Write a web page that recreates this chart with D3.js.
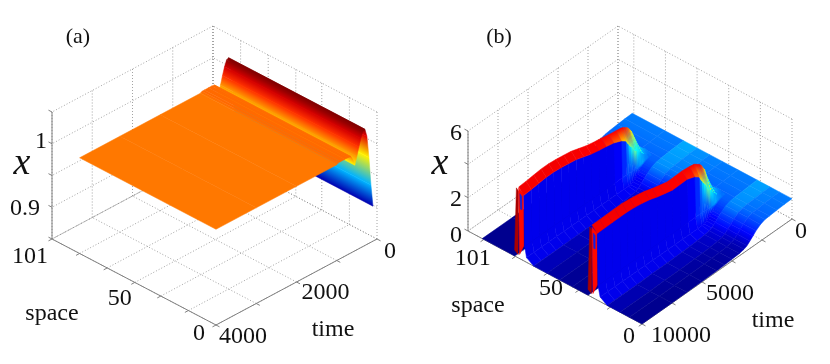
<!DOCTYPE html>
<html><head><meta charset="utf-8">
<script src="https://cdn.jsdelivr.net/npm/d3@7/dist/d3.min.js"></script>
<style>html,body{margin:0;padding:0;background:#fff}svg{display:block;filter:blur(.35px)}text{font-family:"Liberation Serif",serif;fill:#111}</style>
</head><body><div id="chart"></div>
<script>
// ---------- panel (a) data ----------
const spaceTicksA=[0,17,34,50,67,84,101];
const spaceLabelsA=["0","","","50","","","101"];
const timeTicksA=[0,1000,2000,3000,4000];
const timeLabelsA=["0","","2000","","4000"];
const xTicksA=[0.85,0.9,0.95,1,1.05];
const xLabelsA=["","0.9","","1",""];
const surfaceSpaceA=[0,84];
const surfaceTimeA=[100,150,200,250,300,350,400,450,500,550,600,650,720,800,900,960,1000,2000,3000,4000];
const surfaceValueA=[.905,.94,.985,1.02,1.033,1.031,1.022,1.01,.997,.985,.995,1.002,1.0025,1.0025,1.0025,1.0025,1.0007,1.0007,1.0007,1.0007];
// ---------- panel (b) data ----------
const spaceTicksB=[0,20,40,60,80,100];
const spaceLabelsB=["0","","","50","","101"];
const timeTicksB=[0,2000,4000,6000,8000,10000];
const timeLabelsB=["0","","","5000","","10000"];
const xTicksB=[0,2,4,6];
const xLabelsB=["0","2","","6"];
const floorTime=[0,500,1000,1500,1800,2100,2400,2600,2800,3000,3200,3500,4000,4500,5000,6000,7000,8000,10000];
const floorLevel=[1.22,1.2,1.17,1.13,1.1,1,.8,.62,.45,.28,.2,.14,.1,.07,.05,.03,.02,0,0];
const floorSpaces=[[0,8,14,22],[34.1,44,52,60,68.5],[80.5,101]];
const floorShades=[[0,0,.1,.25],[0,0,.06,.15,.28],[0,0]];
const gapSpaces=[[22,34.1],[68.5,80.5]];
const gapTime=[0,500,1000,1500,1800,2100,2400];
const gapLevel=[1.22,1.2,1.17,1.13,1.1,1,.8];
const pulseTime=[1600,1700,1800,1900,2000,2100,2200,2300,2400,2500,2600,2700,2800,2900,3050,3200,3500,4000,4500,5000,5500,6000,6500,7000,7500,8000,8500,9000,9500,10000];
const pulsePeak1=[1.3,1.35,1.45,1.55,1.7,1.9,2.15,2.4,2.65,2.9,3.05,3.2,3.3,3.35,3.45,3.5,3.55,3.62,3.72,3.8,3.9,4.05,4.2,4.28,4.35,4.4,4.4,4.35,4.3,4.26];
const pulsePeak2=[1.25,1.3,1.4,1.5,1.6,1.8,2.05,2.3,2.6,2.95,3.1,3.3,3.42,3.5,3.6,3.7,3.75,3.8,3.78,3.77,3.88,4,4.15,4.25,4.32,4.36,4.36,4.35,4.34,4.33];
const pulseDrop=[.1,.15,.2,.25,.3,.4,.5,.7,.8,1,1.1,1.05,1,.95,.8,.6,.45,.33,.33,.33,.33,.33,.33,.33,.33,.33,.33,.33,.33,.33];
const pulseShade=[1.15,1.25,1.1,1.4,1.15,1.55,1.3,1.75,1.7,2.1,2.3,2.2,2,1.85,1.5,1,.65,.5,.5,.5,.5,.5,.5,.5,.5,.5,.5,.5,.5,.5];
const wallSpace1=[74.7,74.2,73,68.5];
const wallSpace2=[28.3,27.8,26.5,22];
const wallValue=[.9,.28,0];
const endDark=[[33,4.14],[34.1,.36],[32,.2],[31.6,4]];
const endRed=[[31.6,4.2],[31,.25],[28.3,.9],[28.3,4]];
const endBlue=[[30.8,3.9],[29.6,3.8],[29.6,3],[30.5,3]];

// ---------- setup ----------
const svg=d3.select("#chart").append("svg").attr("width",830).attr("height",364);
const defs=svg.append("defs");
let gid=0;
const panelA={b:[216,325],l:[52,239],r:[377,239],H:127,sMax:101,tMax:4000,xDom:[.85,1.05]};
const panelB={b:[642,324],l:[468,231],r:[792,219],H:100,sMax:110,tMax:10000,xDom:[0,6]};
function projector(p){
  const sF=d3.scaleLinear([0,p.sMax],[0,1]),tF=d3.scaleLinear([p.tMax,0],[0,1]),xP=d3.scaleLinear(p.xDom,[0,p.H]);
  return (s,t,x)=>[p.b[0]+sF(s)*(p.l[0]-p.b[0])+tF(t)*(p.r[0]-p.b[0]),
                   p.b[1]+sF(s)*(p.l[1]-p.b[1])+tF(t)*(p.r[1]-p.b[1])-xP(x)];
}
function unit(a,b){const dx=b[0]-a[0],dy=b[1]-a[1],n=Math.hypot(dx,dy);return [dx/n,dy/n];}
const jetA=d3.scaleLinear().domain([.9,.91663,.94988,.98313,1.01638,1.033]).range(["#00008f","#0000ff","#00ffff","#ffff00","#ff0000","#800000"]).clamp(true);
const jetB=d3.scaleLinear().domain([0,.6,1,1.2,1.85,2.4,2.9,3.15,3.45,4.5]).range(["#00008f","#0000ff","#0048ff","#0078ff","#00ffff","#80ff80","#ffff00","#ff8000","#ff0000","#f00000"]).clamp(true);

function poly(g,pts,c0,c1){
  let fill=c0;
  if(c1!==undefined&&c1!==c0){
    const id="g"+(gid++),d=unit(pts[0],pts[1]),n=[-d[1],d[0]];
    const far=pts[pts.length-1],len=(far[0]-pts[0][0])*n[0]+(far[1]-pts[0][1])*n[1];
    const lg=defs.append("linearGradient").attr("id",id).attr("gradientUnits","userSpaceOnUse")
      .attr("x1",pts[0][0]).attr("y1",pts[0][1]).attr("x2",pts[0][0]+n[0]*len).attr("y2",pts[0][1]+n[1]*len);
    lg.append("stop").attr("offset",0).attr("stop-color",c0);
    lg.append("stop").attr("offset",1).attr("stop-color",c1);
    fill="url(#"+id+")";
  }
  g.append("path").attr("d",d3.line()(pts)+"Z").attr("fill",fill).attr("stroke",fill).attr("stroke-width",.5);
}

function frame(g,p,cfg){
  const P=projector(p),grid=g.append("g").attr("fill","none").attr("stroke","#8c8c8c").attr("stroke-width",.8).attr("stroke-dasharray","1 2");
  const seg=(a,b)=>grid.append("path").attr("d",d3.line()([a,b]));
  const x0=p.xDom[0],x1=p.xDom[1];
  const ss=[...cfg.sT,p.sMax],ts=cfg.tT;
  ss.forEach(s=>{seg(P(s,p.tMax,x0),P(s,0,x0));seg(P(s,0,x0),P(s,0,x1));});
  ts.forEach(t=>{seg(P(0,t,x0),P(p.sMax,t,x0));seg(P(p.sMax,t,x0),P(p.sMax,t,x1));});
  cfg.xT.forEach(x=>{seg(P(0,0,x),P(p.sMax,0,x));seg(P(p.sMax,0,x),P(p.sMax,p.tMax,x));});
  const ax=g.append("g").attr("fill","none").attr("stroke","#808080").attr("stroke-width",1);
  const line=(a,b)=>ax.append("path").attr("d",d3.line()([a,b]));
  line(P(p.sMax,p.tMax,x0),P(p.sMax,p.tMax,x1));
  line(P(p.sMax,p.tMax,x0),P(0,p.tMax,x0));
  line(P(0,p.tMax,x0),P(0,0,x0));
  const su=unit(p.r,p.b),tu=unit(p.l,p.b),xu=unit(p.b,p.l);
  cfg.sT.forEach(s=>{const a=P(s,p.tMax,x0);line(a,[a[0]+su[0]*4,a[1]+su[1]*4]);});
  cfg.tT.forEach(t=>{const a=P(0,t,x0);line(a,[a[0]+tu[0]*4,a[1]+tu[1]*4]);});
  cfg.xT.forEach(x=>{const a=P(p.sMax,p.tMax,x);line(a,[a[0]+xu[0]*4,a[1]+xu[1]*4]);});
}
function label(g,txt,x,y,size,style){
  g.append("text").attr("x",x).attr("y",y).attr("dy",".33em").attr("text-anchor","middle")
   .attr("font-size",size).attr("font-style",style||null).text(txt);
}
function tickLabels(g,P,ticks,labels,pt,off){
  ticks.forEach((v,i)=>{if(labels[i]){const a=pt(v);label(g,labels[i],a[0]+off(i)[0],a[1]+off(i)[1],24);}});
}

// ---------- panel (a) ----------
const gA=svg.append("g");
frame(gA,panelA,{sT:spaceTicksA,tT:timeTicksA,xT:xTicksA});
const PA=projector(panelA);
surfaceTimeA.slice(0,-1).forEach((t,i)=>{
  const t1=surfaceTimeA[i+1],v0=surfaceValueA[i],v1=surfaceValueA[i+1],[s0,s1]=surfaceSpaceA;
  poly(gA,[PA(s0,t,v0),PA(s1,t,v0),PA(s1,t1,v1),PA(s0,t1,v1)],jetA(v0),jetA(v1));
});
label(gA,"(a)",78,36,22);
label(gA,"x",22,161,38,"italic");
const xA={"0.9":[25,207],"1":[41,140]};
xLabelsA.forEach(l=>{if(l)label(gA,l,xA[l][0],xA[l][1],24);});
tickLabels(gA,PA,spaceTicksA,spaceLabelsA,s=>PA(s,4000,.85),i=>[[-17,7],0,0,[-15,15],0,0,[-22,16]][i]);
tickLabels(gA,PA,timeTicksA,timeLabelsA,t=>PA(0,t,.85),i=>[[13,11],0,[29,9],0,[27,10]][i]);
label(gA,"space",52,312,24);
label(gA,"time",333,328,24);

// ---------- panel (b) ----------
const gB=svg.append("g");
frame(gB,panelB,{sT:spaceTicksB,tT:timeTicksB,xT:xTicksB});
const PB=projector(panelB);
function gapPatch(k){
  const [a,b]=gapSpaces[k];
  gapTime.slice(0,-1).forEach((t,i)=>{
    const t1=gapTime[i+1],v0=gapLevel[i],v1=gapLevel[i+1];
    poly(gB,[PB(a,t,v0),PB(b,t,v0),PB(b,t1,v1),PB(a,t1,v1)],jetB(v0),jetB(v1));
  });
}
function floorPatch(k){
  const sp=floorSpaces[k],sh=floorShades[k];
  for(let c=sp.length-2;c>=0;c--){
    const a=sp[c],b=sp[c+1],d=(sh[c]+sh[c+1])/2;
    floorTime.slice(0,-1).forEach((t,i)=>{
      const t1=floorTime[i+1],v0=floorLevel[i],v1=floorLevel[i+1];
      poly(gB,[PB(a,t,v0),PB(b,t,v0),PB(b,t1,v1),PB(a,t1,v1)],jetB(v0+d),jetB(v1+d));
    });
  }
}
function endFace(ds){
  const f=(q,c)=>poly(gB,q.map(r=>PB(r[0]+ds,10000,r[1])),c);
  f(endDark,"#a80000");f(endRed,"#ff0800");f(endBlue,"#1020e0");
}
function pulse(peaks,sTop,sWall){
  const lvl=d3.scaleLinear(floorTime,floorLevel);
  pulseTime.slice(0,-1).forEach((t,i)=>{
    const t1=pulseTime[i+1],p0=peaks[i],p1=peaks[i+1],d0=pulseDrop[i],d1=pulseDrop[i+1];
    const base0=lvl(t),base1=lvl(t1);
    const low0=Math.max(base0,wallValue[0]),low1=Math.max(base1,wallValue[0]);
    const shade=(pulseShade[i]+pulseShade[i+1])/2;
    const c=jetB(shade),cMid=jetB(Math.min(shade,Math.max(.55,base0)+.45)),cLow=jetB(Math.min(shade,Math.max(.55,base0)));
    poly(gB,[PB(sWall[0],t,p0-d0),PB(sWall[0],t1,p1-d1),PB(sWall[1],t1,low1),PB(sWall[1],t,low0)],c,cMid);
    poly(gB,[PB(sWall[1],t,low0),PB(sWall[1],t1,low1),PB(sWall[2],t1,Math.max(base1,wallValue[1])),PB(sWall[2],t,Math.max(base0,wallValue[1]))],cMid,cLow);
    poly(gB,[PB(sWall[2],t,Math.max(base0,wallValue[1])),PB(sWall[2],t1,Math.max(base1,wallValue[1])),PB(sWall[3],t1,base1),PB(sWall[3],t,base0)],cLow);
  });
  pulseTime.slice(0,-1).forEach((t,i)=>{
    const t1=pulseTime[i+1],p0=peaks[i],p1=peaks[i+1],d0=pulseDrop[i],d1=pulseDrop[i+1];
    poly(gB,[PB(sTop,t,p0),PB(sTop,t1,p1),PB(sWall[0],t1,p1-d1),PB(sWall[0],t,p0-d0)],
      jetB((p0+p1)/2),jetB((p0+p1-d0-d1)/2));
  });
}
floorPatch(2);
gapPatch(1);
endFace(46.4);
pulse(pulsePeak1,78,wallSpace1);
floorPatch(1);
gapPatch(0);
endFace(0);
pulse(pulsePeak2,31.6,wallSpace2);
floorPatch(0);
label(gB,"(b)",499,36,22);
label(gB,"x",440,161,38,"italic");
const xB={"0":[456,234],"2":[456,198],"6":[456,132]};
xLabelsB.forEach(l=>{if(l)label(gB,l,xB[l][0],xB[l][1],24);});
tickLabels(gB,PB,spaceTicksB,spaceLabelsB,s=>PB(s,10000,0),i=>[[-13,11],0,0,[4,14],0,[-11,18]][i]);
tickLabels(gB,PB,timeTicksB,timeLabelsB,t=>PB(0,t,0),i=>[[9,11],0,0,[28,10],0,[39,10]][i]);
label(gB,"space",478,304,24);
label(gB,"time",773,319,24);
</script></body></html>
